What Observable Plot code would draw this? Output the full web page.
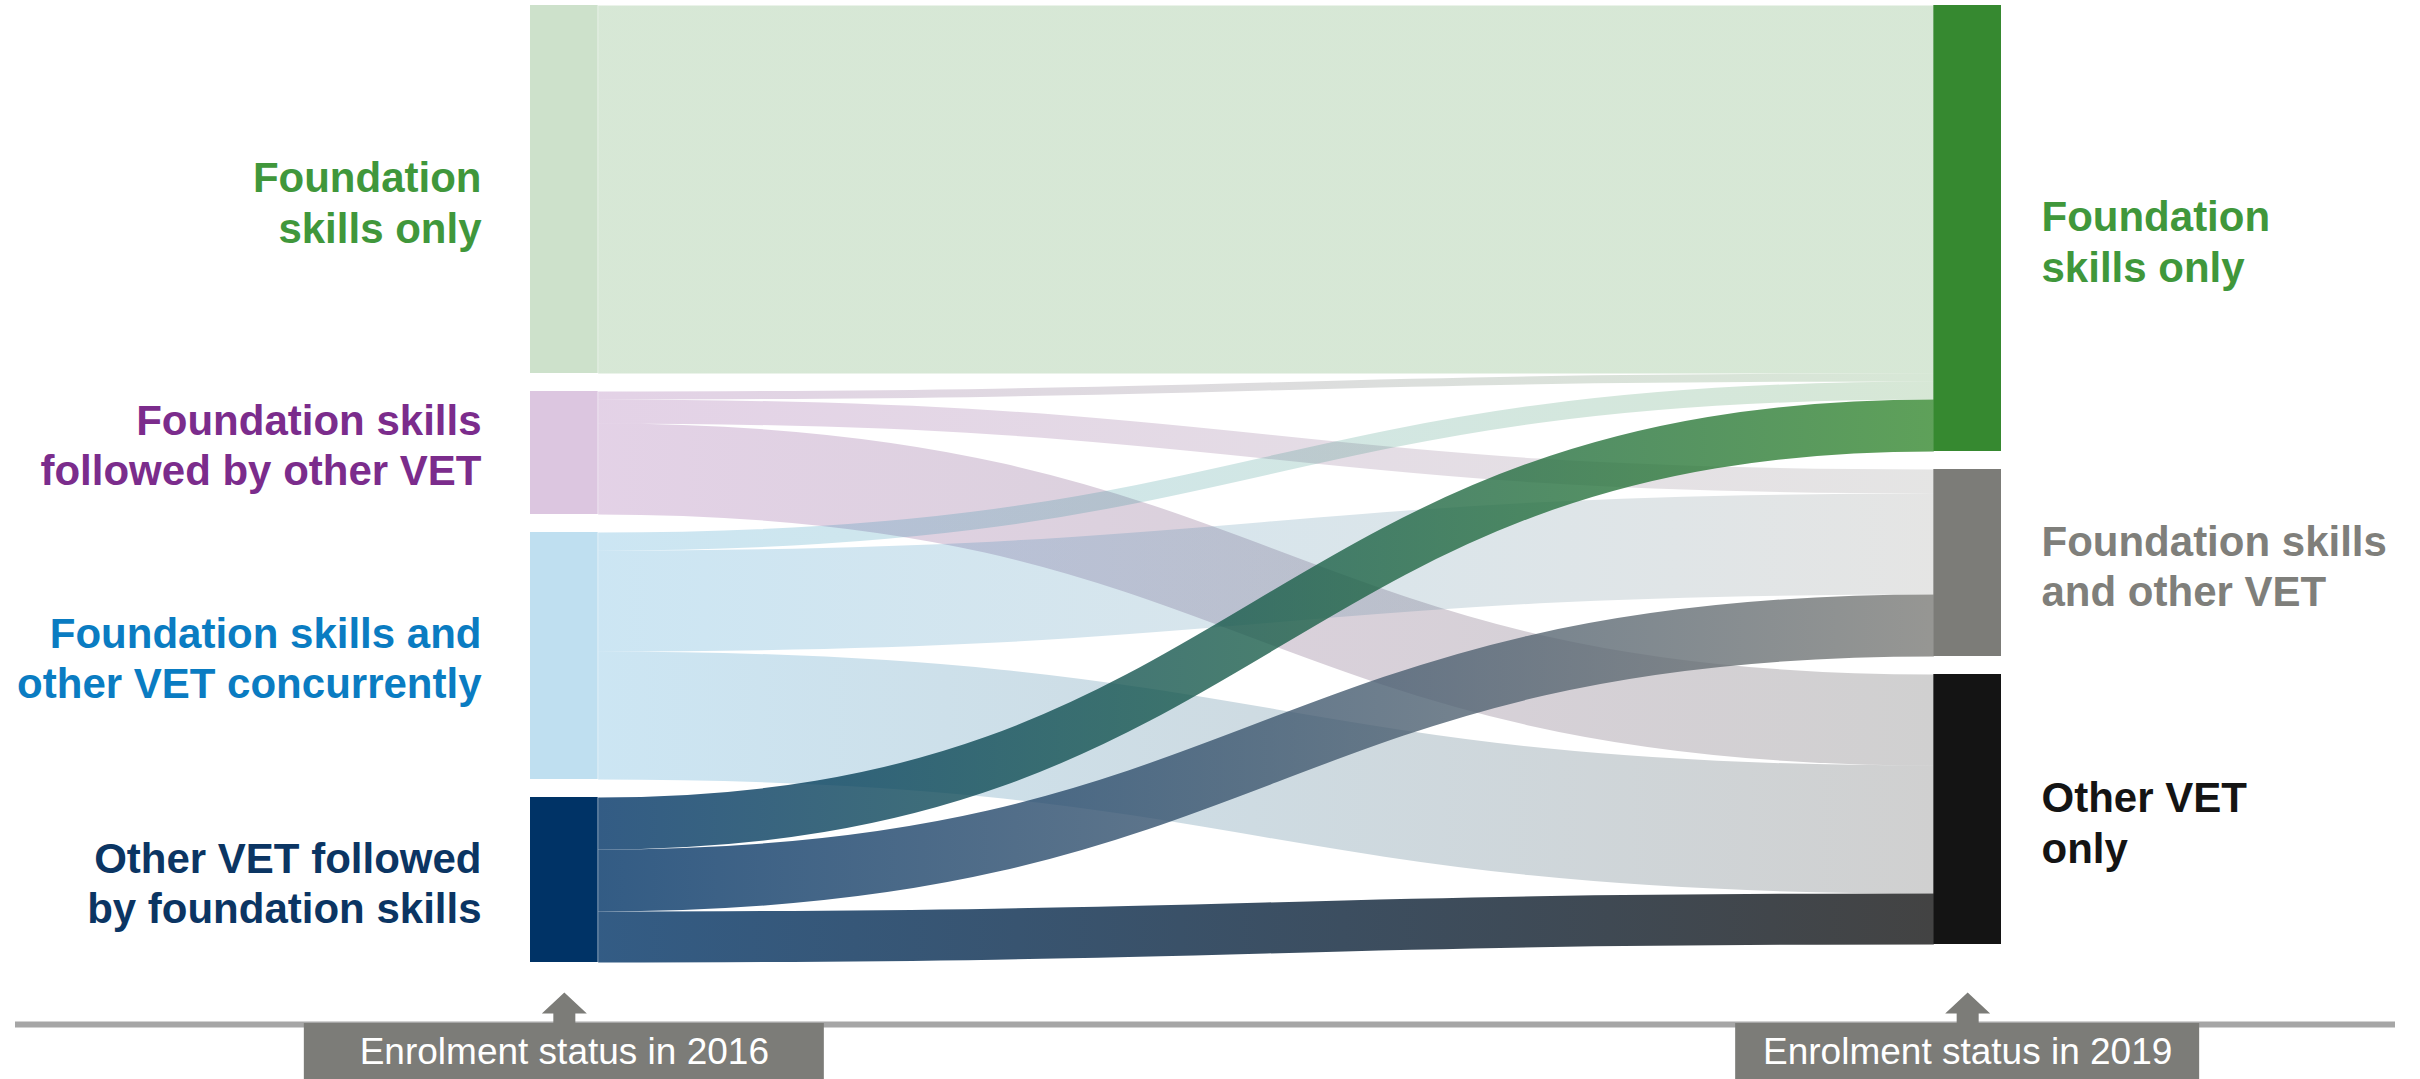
<!DOCTYPE html>
<html>
<head>
<meta charset="utf-8">
<script src="https://cdn.jsdelivr.net/npm/d3@7"></script>
<script src="https://cdn.jsdelivr.net/npm/@observablehq/plot@0.6"></script>
<style>
  html, body { margin: 0; padding: 0; background: #fff; overflow: hidden; }
</style>
</head>
<body>
<div id="chart"></div>
<script>
// ---------------- DATA ----------------
const stages = ["Enrolment status in 2016", "Enrolment status in 2019"];

const sources = [
  "Foundation skills only",
  "Foundation skills followed by other VET",
  "Foundation skills and other VET concurrently",
  "Other VET followed by foundation skills"
];
const sourceLabels = [
  "Foundation\nskills only",
  "Foundation skills\nfollowed by other VET",
  "Foundation skills and\nother VET concurrently",
  "Other VET followed\nby foundation skills"
];

const targets = [
  "Foundation skills only",
  "Foundation skills and other VET",
  "Other VET only"
];
const targetLabels = [
  "Foundation\nskills only",
  "Foundation skills\nand other VET",
  "Other VET\nonly"
];

// flow values from each 2016 status (in sources order) to each 2019 status
const toFoundationOnly     = [368, 8, 18, 52];
const toFoundationAndOther = [0, 24, 101, 62];
const toOtherVetOnly       = [0, 91, 128, 51];

// ---------------- STYLES ----------------
const sourceColors = ["#368930", "#741c84", "#0080c4", "#003366"];
const sourceLabelColors = ["#40973b", "#7b2c8c", "#0a7cc2", "#0b3563"];
const targetColors = ["#368930", "#7c7c78", "#141414"];
const targetLabelColors = ["#40973b", "#7f7f7b", "#141414"];
const sourceLabelDy = [12, -9, 1, 2];
const targetLabelDy = [12, 2, 12];
const highlighted = "Other VET followed by foundation skills";
const FONT = "'Liberation Sans', Arial, Helvetica, sans-serif";

const W = 2420, H = 1079;
const GAP = 18;                 // padding between nodes (value units)
const X_RANGE = [530, 2001];
const NODE_W = 0.046;           // node width in x units
const Y_TOP = 5;
const PX_PER_UNIT = 1;

// ---------------- LAYOUT ----------------
const flows = [toFoundationOnly, toFoundationAndOther, toOtherVetOnly];
const links = [];
sources.forEach((s, si) => targets.forEach((t, ti) => {
  const v = flows[ti][si];
  if (v > 0) links.push({si, ti, source: s, target: t, value: v});
}));
links.forEach((l, i) => l.id = i);

function stackColumn(names, totals) {
  let y = 0;
  return names.map((n, i) => {
    const node = {name: n, i, y0: y, y1: y + totals[i]};
    y += totals[i] + GAP;
    return node;
  });
}
const srcTotals = sources.map((s, si) => d3.sum(links.filter(l => l.si === si), l => l.value));
const tgtTotals = targets.map((t, ti) => d3.sum(links.filter(l => l.ti === ti), l => l.value));
const leftNodes = stackColumn(sources, srcTotals);
const rightNodes = stackColumn(targets, tgtTotals);
const yMax = Math.max(leftNodes[leftNodes.length - 1].y1, rightNodes[rightNodes.length - 1].y1);

leftNodes.forEach(n => {
  let y = n.y0;
  links.filter(l => l.si === n.i).sort((a, b) => a.ti - b.ti).forEach(l => { l.sy = y + l.value / 2; y += l.value; });
});
rightNodes.forEach(n => {
  let y = n.y0;
  links.filter(l => l.ti === n.i).sort((a, b) => a.si - b.si).forEach(l => { l.ty = y + l.value / 2; y += l.value; });
});

const LX0 = NODE_W, LX1 = 1 - NODE_W;
const nodes = [
  ...leftNodes.map(n => ({...n, x1: 0, x2: NODE_W, side: "left",
      fill: sourceColors[n.i], op: n.name === highlighted ? 1 : 0.25,
      label: sourceLabels[n.i], labelColor: sourceLabelColors[n.i], ldy: sourceLabelDy[n.i]})),
  ...rightNodes.map(n => ({...n, x1: 1 - NODE_W, x2: 1, side: "right",
      fill: targetColors[n.i], op: 1,
      label: targetLabels[n.i], labelColor: targetLabelColors[n.i], ldy: targetLabelDy[n.i]}))
];

// pixel -> scale unit helpers for annotations
const py = px => (px - Y_TOP) / PX_PER_UNIT;
const pxX = px => px / (X_RANGE[1] - X_RANGE[0]);
const stageCenters = [NODE_W / 2, 1 - NODE_W / 2];
const boxHalf = [260, 232];

const blockArrow = {
  draw(ctx, l) {
    ctx.moveTo(-11, 0);
    ctx.lineTo(-11, -10);
    ctx.lineTo(-22.5, -10);
    ctx.lineTo(0, -l);
    ctx.lineTo(22.5, -10);
    ctx.lineTo(11, -10);
    ctx.lineTo(11, 0);
    ctx.closePath();
  }
};

// ---------------- PLOT ----------------
const svg = Plot.plot({
  width: W,
  height: H,
  margin: 0,
  style: {fontFamily: FONT, background: "#fff"},
  x: {domain: [0, 1], range: X_RANGE, axis: null},
  y: {domain: [0, yMax], range: [Y_TOP, Y_TOP + yMax * PX_PER_UNIT], axis: null},
  color: {type: "identity"},
  opacity: {type: "identity"},
  marks: [
    // links
    Plot.link(links, {
      x1: LX0, x2: LX1,
      y1: "sy", y2: "ty",
      curve: "bump-x",
      stroke: l => `url(#lg${l.id})`,
      strokeOpacity: l => l.source === highlighted ? 0.8 : 0.2,
      strokeWidth: l => l.value * PX_PER_UNIT,
      strokeLinecap: "butt"
    }),
    // nodes
    Plot.rect(nodes, {
      x1: "x1", x2: "x2", y1: "y0", y2: "y1",
      fill: "fill", fillOpacity: "op"
    }),
    // node labels
    Plot.text(nodes.filter(n => n.side === "left"), {
      x: "x1", y: n => (n.y0 + n.y1) / 2 + n.ldy / PX_PER_UNIT, text: "label",
      dx: -49, textAnchor: "end", lineAnchor: "middle", lineHeight: 1.2,
      fill: "labelColor", fontSize: 42, fontWeight: "bold"
    }),
    Plot.text(nodes.filter(n => n.side === "right"), {
      x: "x2", y: n => (n.y0 + n.y1) / 2 + n.ldy / PX_PER_UNIT, text: "label",
      dx: 40, textAnchor: "start", lineAnchor: "middle", lineHeight: 1.2,
      fill: "labelColor", fontSize: 42, fontWeight: "bold"
    }),
    // bottom timeline
    Plot.ruleY([py(1024)], {stroke: "#a6a6a6", strokeWidth: 6, insetLeft: 15, insetRight: 25}),
    Plot.vector(stages, {
      x: (d, i) => stageCenters[i], y: py(1023),
      length: 31, rotate: 0, anchor: "start", shape: blockArrow,
      fill: "#7c7c78", stroke: "none"
    }),
    Plot.rect(stages, {
      x1: (d, i) => stageCenters[i] - pxX(boxHalf[i]),
      x2: (d, i) => stageCenters[i] + pxX(boxHalf[i]),
      y1: py(1023), y2: py(1080),
      fill: "#7c7c78"
    }),
    Plot.text(stages, {
      x: (d, i) => stageCenters[i], y: py(1052), text: d => d,
      fill: "#ffffff", fontSize: 37, lineAnchor: "middle"
    })
  ]
});

// gradients for links (source colour -> target colour)
const xs = svg.scale("x");
const defs = d3.select(svg).insert("defs", ":first-child");
links.forEach(l => {
  const g = defs.append("linearGradient")
    .attr("id", `lg${l.id}`)
    .attr("gradientUnits", "userSpaceOnUse")
    .attr("x1", xs.apply(LX0)).attr("x2", xs.apply(LX1))
    .attr("y1", 0).attr("y2", 0);
  g.append("stop").attr("offset", "0%").attr("stop-color", sourceColors[l.si]);
  g.append("stop").attr("offset", "100%").attr("stop-color", targetColors[l.ti]);
});

document.getElementById("chart").appendChild(svg);
</script>
</body>
</html>
